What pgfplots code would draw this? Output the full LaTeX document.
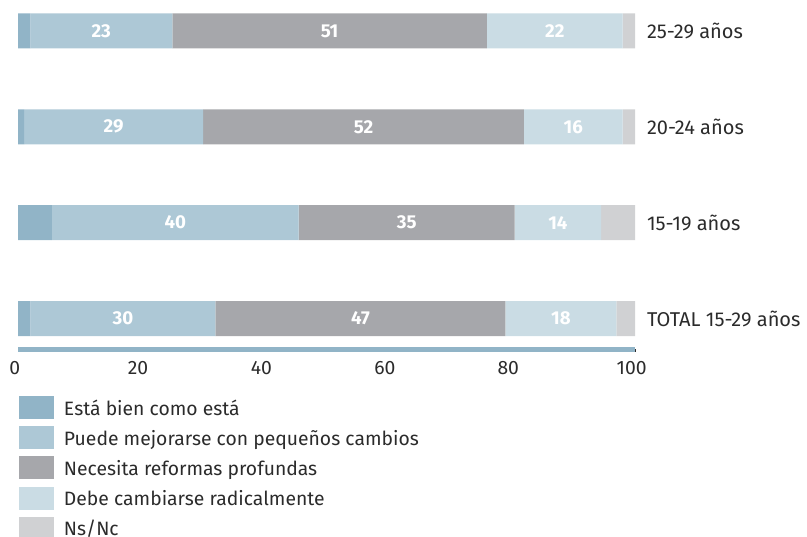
\documentclass[border=0pt]{standalone}
\usepackage{pgfplots}
\pgfplotsset{compat=1.18}
\usepackage{fontspec}
\setmainfont{Fira Sans}

\definecolor{cBien}{HTML}{91B4C7}
\definecolor{cPuede}{HTML}{ADC8D6}
\definecolor{cNecesita}{HTML}{A6A7AB}
\definecolor{cDebe}{HTML}{CADCE4}
\definecolor{cNsnc}{HTML}{D0D1D3}
\definecolor{cText}{HTML}{2B2B2B}

\newcommand{\txt}{\fontsize{14.5}{14.5}\selectfont}

\begin{document}
\begin{tikzpicture}[x=0.75pt,y=0.75pt]
\useasboundingbox (0,0) rectangle (807,-536);
\begin{axis}[
  at={(13.5pt,0pt)}, anchor=north west,
  scale only axis, width=462.75pt, height=261.75pt,
  xbar stacked, bar width=26.25pt,
  xmin=0, xmax=100, ymin=-0.318, ymax=3.323,
  axis x line*=bottom, axis y line*=right,
  x axis line style={draw=cBien, line width=3.75pt},
  y axis line style={draw=none},
  ytick={0,1,2,3},
  yticklabels={TOTAL 15-29 años,15-19 años,20-24 años,25-29 años},
  yticklabel pos=right,
  ytick style={draw=none},
  yticklabel style={anchor=west, font=\fontsize{15}{15}\selectfont, text=cText, xshift=3.5pt},
  xtick={0,20,...,100},
  xtick style={draw=cText, line width=0.6pt},
  major tick length=2pt, tick align=outside,
  xticklabel style={font=\txt, text=cText, xshift=-2.5pt, yshift=-4pt},
  /pgf/number format/assume math mode=true,
  legend image code/.code={\fill[#1] (0pt,-3pt) rectangle (26.25pt,14.25pt);},
  legend cell align=left,
  legend style={at={(0,0)}, anchor=north west, xshift=0.75pt, yshift=-35.25pt,
    draw=none, fill=none, inner sep=0pt, outer sep=0pt, row sep=5.4pt,
    font=\txt, text=cText,
    cells={anchor=base west},
    nodes={inner sep=0pt, outer sep=0pt}},
  every node near coord/.append style={font=\fontsize{14}{14}\selectfont\bfseries, text=white},
]
\addplot[fill=cBien, draw=none] coordinates {(2,0) (5.5,1) (1,2) (2,3)};
\addlegendentry{\hspace{7.5pt}Está bien como está}
\addplot[fill=cPuede, draw=none, nodes near coords] coordinates {(30,0) (40,1) (29,2) (23,3)};
\addlegendentry{\hspace{7.5pt}Puede mejorarse con pequeños cambios}
\addplot[fill=cNecesita, draw=none, nodes near coords] coordinates {(47,0) (35,1) (52,2) (51,3)};
\addlegendentry{\hspace{7.5pt}Necesita reformas profundas}
\addplot[fill=cDebe, draw=none, nodes near coords] coordinates {(18,0) (14,1) (16,2) (22,3)};
\addlegendentry{\hspace{7.5pt}Debe cambiarse radicalmente}
\addplot[fill=cNsnc, draw=none] coordinates {(3,0) (5.5,1) (2,2) (2,3)};
\addlegendentry{\hspace{7.5pt}Ns/Nc}
\end{axis}
\end{tikzpicture}
\end{document}
